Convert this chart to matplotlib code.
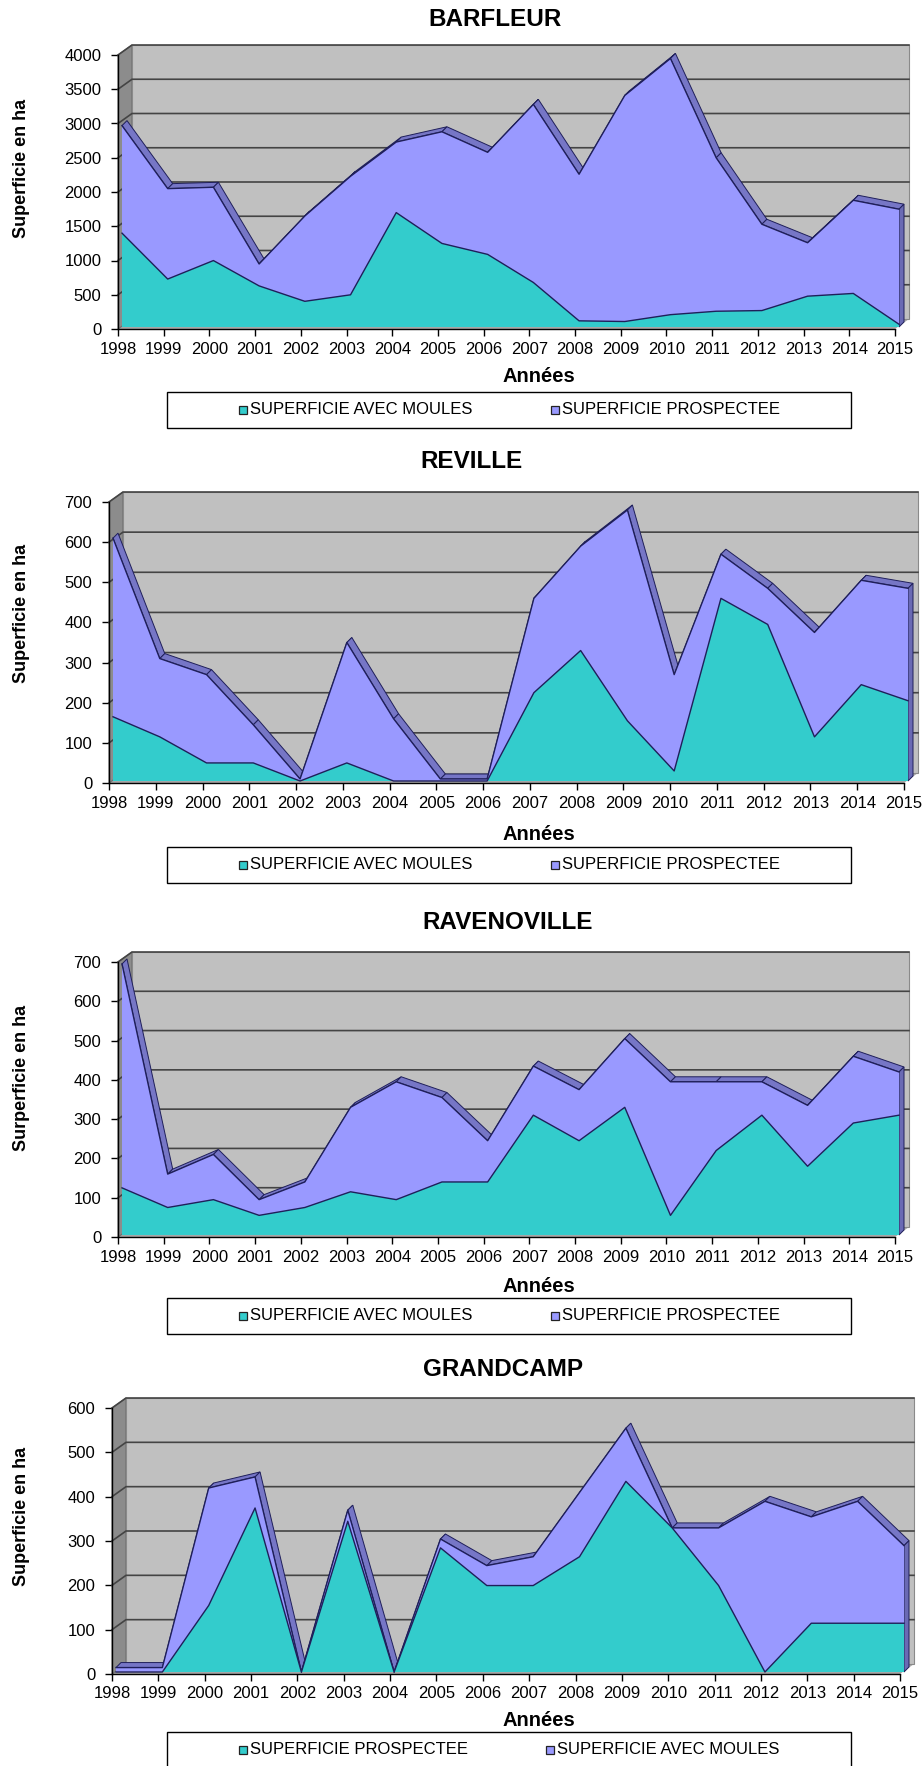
import numpy as np
import matplotlib.pyplot as plt
from matplotlib.patches import Polygon, Rectangle

plt.rcParams.update({'font.family': ['Liberation Sans', 'DejaVu Sans']})

years = list(range(1998, 2016))

# surfaces in ha, one value per year
barfleur_moules = [1370, 700, 970, 600, 375, 470, 1670, 1220, 1060, 650, 90, 80, 180, 230, 240, 450, 490, 40]
barfleur_prosp = [2940, 2020, 2040, 920, 1620, 2200, 2700, 2850, 2550, 3250, 2230, 3380, 3920, 2470, 1500, 1230, 1850, 1720]

reville_moules = [160, 110, 45, 45, 0, 45, 0, 0, 0, 220, 325, 150, 25, 455, 390, 110, 240, 200]
reville_prosp = [605, 305, 265, 140, 5, 345, 155, 5, 5, 455, 585, 675, 265, 565, 480, 370, 500, 480]

ravenoville_moules = [120, 70, 90, 50, 70, 110, 90, 135, 135, 305, 240, 325, 50, 215, 305, 175, 285, 305]
ravenoville_prosp = [690, 155, 205, 90, 135, 325, 390, 350, 240, 430, 370, 500, 390, 390, 390, 330, 455, 415]

# GRANDCAMP legend has the two series names the other way round
grandcamp_teal = [0, 0, 150, 370, 0, 340, 0, 280, 195, 195, 260, 430, 325, 195, 0, 110, 110, 110]
grandcamp_lilac = [10, 10, 415, 440, 0, 365, 0, 300, 240, 260, 405, 550, 325, 325, 385, 350, 385, 285]

LAB_MOULES = 'SUPERFICIE AVEC MOULES'
LAB_PROSP = 'SUPERFICIE PROSPECTEE'

TEAL = '#33cccc'
LILAC = '#9999ff'
LILAC_TOP = '#7676c6'
LILAC_SIDE = '#6a6ab4'
EDGE = '#1f1f5a'
WALL = '#c0c0c0'
SIDE = '#8c8c8c'
FLOOR = '#a6a6a6'
GRID = '#444444'

W, H = 923, 1766
fig = plt.figure(figsize=(W / 100, H / 100), dpi=100)


def fx(x):
    return x / W


def fy(y):
    return 1 - y / H


def draw_panel(title, teal, lilac, teal_lab, lilac_lab, ylab, ymax, step,
               x0, x1, y0, y1, title_x, title_y, ylab_y, xlab_y, leg_y, leg2_x):
    ax = fig.add_axes([fx(x0), fy(y0), (x1 - x0) / W, (y0 - y1) / H])
    ax.set_xlim(0, 17)
    ax.set_ylim(0, ymax)
    ax.patch.set_visible(False)
    for s in ('top', 'right'):
        ax.spines[s].set_visible(False)
    for s in ('left', 'bottom'):
        ax.spines[s].set_zorder(10)
        ax.spines[s].set_linewidth(1.0)

    # pixel offsets -> data units
    kx = (x1 - x0) / 17
    ky = (y0 - y1) / ymax
    wx, wy = 14 / kx, 10 / ky     # depth of the walls
    sx, sy = 4 / kx, 2 / ky       # series face sits a bit behind the axis plane
    rx, ry = 5 / kx, 5 / ky       # thickness of the area top

    # floor, side wall, back wall
    ax.add_patch(Polygon([(0, 0), (17, 0), (17 + wx, wy), (wx, wy)],
                         fc=FLOOR, ec='none', clip_on=False, zorder=1))
    ax.add_patch(Polygon([(0, 0), (wx, wy), (wx, ymax + wy), (0, ymax)],
                         fc=SIDE, ec='#6e6e6e', lw=0.8, clip_on=False, zorder=1))
    ax.add_patch(Polygon([(wx, wy), (17 + wx, wy), (17 + wx, ymax + wy), (wx, ymax + wy)],
                         fc=WALL, ec='#8a8a8a', lw=0.8, clip_on=False, zorder=1))
    for v in np.arange(step, ymax + step, step):
        ax.plot([0, wx, 17 + wx], [v, v + wy, v + wy], color=GRID, lw=1.2,
                clip_on=False, zorder=2)

    xs = np.arange(len(years)) + sx
    yb = np.asarray(lilac, float) + sy
    yf = np.asarray(teal, float) + sy

    # top faces of the back series
    for i in range(len(xs) - 1):
        ax.add_patch(Polygon([(xs[i], yb[i]), (xs[i + 1], yb[i + 1]),
                              (xs[i + 1] + rx, yb[i + 1] + ry), (xs[i] + rx, yb[i] + ry)],
                             fc=LILAC_TOP, ec=EDGE, lw=0.7, clip_on=False, zorder=3))
    ax.add_patch(Polygon([(xs[-1], sy), (xs[-1], yb[-1]), (xs[-1] + rx, yb[-1] + ry),
                          (xs[-1] + rx, sy + ry)],
                         fc=LILAC_SIDE, ec=EDGE, lw=0.7, clip_on=False, zorder=3))
    ax.fill_between(xs, sy, yb, fc=LILAC, ec='none', clip_on=False, zorder=4)
    ax.plot(xs, yb, color=EDGE, lw=1.0, clip_on=False, zorder=4.5)

    ax.fill_between(xs, sy, yf, fc=TEAL, ec='none', clip_on=False, zorder=6)
    ax.plot(xs, yf, color=EDGE, lw=1.0, clip_on=False, zorder=6.5)

    ax.set_yticks(np.arange(0, ymax + 1, step))
    ax.set_yticklabels([str(int(v)) for v in np.arange(0, ymax + 1, step)])
    ax.set_xticks(range(len(years)))
    ax.set_xticklabels([str(y) for y in years])
    ax.tick_params(axis='y', direction='out', length=5, width=1, labelsize=12, pad=7)
    ax.tick_params(axis='x', direction='out', length=5, width=1, labelsize=12, pad=4)

    fig.text(fx(title_x), fy(title_y), title, ha='center', va='center',
             fontsize=17.5, fontweight='bold')
    fig.text(fx(22), fy(ylab_y), ylab, ha='center', va='center', rotation=90,
             fontsize=13, fontweight='bold')
    fig.text(fx(539), fy(xlab_y), 'Années', ha='center', va='center',
             fontsize=14.5, fontweight='bold')

    # legend box
    fig.add_artist(Rectangle((fx(167), fy(leg_y + 36)), (851 - 167) / W, 36 / H,
                             transform=fig.transFigure, fc='white', ec='black', lw=1.0))
    cy = leg_y + 18
    for mx, col, lab in ((239, TEAL, teal_lab), (leg2_x, LILAC, lilac_lab)):
        fig.add_artist(Rectangle((fx(mx), fy(cy + 4)), 8 / W, 8 / H,
                                 transform=fig.transFigure, fc=col, ec='#222222', lw=0.9))
        fig.text(fx(mx + 11), fy(cy), lab, ha='left', va='center', fontsize=12)


draw_panel('BARFLEUR', barfleur_moules, barfleur_prosp, LAB_MOULES, LAB_PROSP,
           'Superficie en ha', 4000, 500, 118, 895, 329, 55,
           495, 20, 168, 377, 392, 551)
draw_panel('REVILLE', reville_moules, reville_prosp, LAB_MOULES, LAB_PROSP,
           'Superficie en ha', 700, 100, 109, 904, 783, 502,
           471, 462, 613, 835, 847, 551)
draw_panel('RAVENOVILLE', ravenoville_moules, ravenoville_prosp, LAB_MOULES, LAB_PROSP,
           'Surperficie en ha', 700, 100, 118, 895, 1237, 962,
           508, 923, 1078, 1286, 1298, 551)
draw_panel('GRANDCAMP', grandcamp_teal, grandcamp_lilac, LAB_PROSP, LAB_MOULES,
           'Superficie en ha', 600, 100, 112, 900, 1674, 1408,
           503, 1370, 1516, 1720, 1732, 546)

fig.savefig('out.png', dpi=100)
